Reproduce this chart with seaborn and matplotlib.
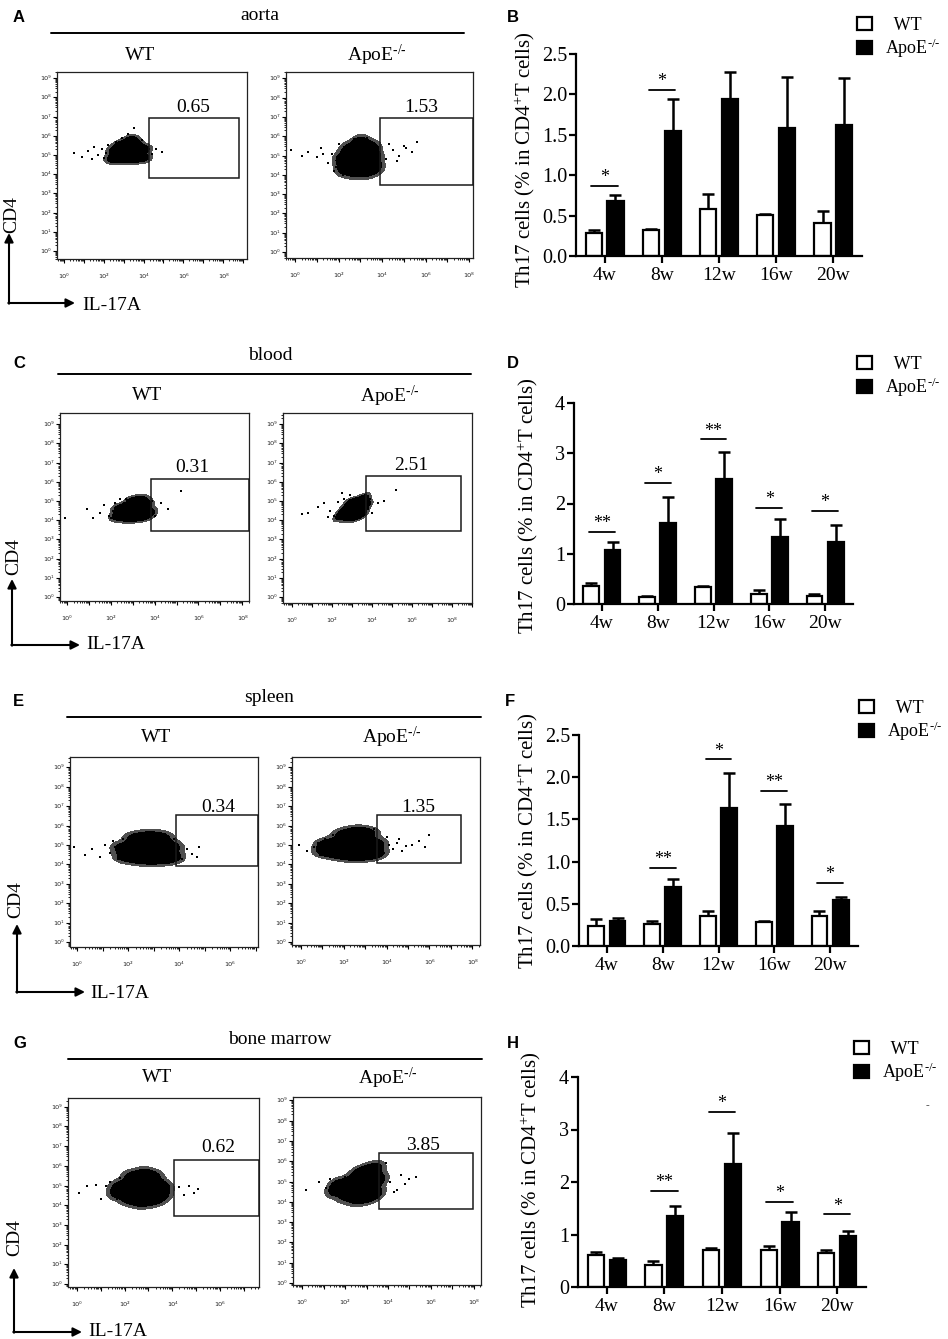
import numpy as np
import pandas as pd
import matplotlib
matplotlib.use('Agg')
import matplotlib.pyplot as plt
import seaborn as sns
from matplotlib.patches import Rectangle, Patch, FancyArrowPatch
from matplotlib.lines import Line2D
from matplotlib.ticker import FixedLocator

# ---------------- data: bar charts ----------------
weeks = ['4w', '8w', '12w', '16w', '20w']
groups = ['WT', 'ApoE']

aorta_wt = [0.29, 0.32, 0.58, 0.51, 0.41]
aorta_wt_err = [0.03, 0.01, 0.19, 0.01, 0.15]
aorta_ko = [0.68, 1.55, 1.94, 1.59, 1.62]
aorta_ko_err = [0.08, 0.39, 0.34, 0.63, 0.58]
aorta_sig_weeks = ['4w', '8w', '12w']
aorta_sig_marks = ['*', '*', '*']
aorta_sig_y = [0.87, 2.06, 2.52]

blood_wt = [0.35, 0.13, 0.33, 0.20, 0.15]
blood_wt_err = [0.07, 0.03, 0.03, 0.07, 0.05]
blood_ko = [1.08, 1.62, 2.48, 1.33, 1.24]
blood_ko_err = [0.15, 0.51, 0.55, 0.36, 0.33]
blood_sig_weeks = ['4w', '8w', '12w', '16w', '20w']
blood_sig_marks = ['**', '*', '**', '*', '*']
blood_sig_y = [1.44, 2.41, 3.28, 1.92, 1.86]

spleen_wt = [0.24, 0.26, 0.35, 0.28, 0.36]
spleen_wt_err = [0.08, 0.04, 0.06, 0.02, 0.05]
spleen_ko = [0.30, 0.70, 1.63, 1.42, 0.55]
spleen_ko_err = [0.03, 0.09, 0.42, 0.26, 0.03]
spleen_sig_weeks = ['8w', '12w', '16w', '20w']
spleen_sig_marks = ['**', '*', '**', '*']
spleen_sig_y = [0.93, 2.21, 1.84, 0.75]

bm_wt = [0.61, 0.41, 0.70, 0.71, 0.65]
bm_wt_err = [0.06, 0.08, 0.04, 0.07, 0.06]
bm_ko = [0.51, 1.36, 2.34, 1.24, 0.97]
bm_ko_err = [0.05, 0.18, 0.60, 0.18, 0.10]
bm_sig_weeks = ['8w', '12w', '16w', '20w']
bm_sig_marks = ['**', '*', '*', '*']
bm_sig_y = [1.83, 3.34, 1.62, 1.39]

# ---------------- data: flow plots (log10 units) ----------------
tissues = ['aorta', 'blood', 'spleen', 'bone marrow']
gate_pct_wt = ['0.65', '0.31', '0.34', '0.62']
gate_pct_ko = ['1.53', '2.51', '1.35', '3.85']

aorta_wt_core_x = [2.4, 2.8, 3.2, 3.6, 4.05, 2.5, 2.9, 3.3, 3.7, 4.05, 2.8, 3.2, 3.6, 3.4]
aorta_wt_core_y = [4.8, 4.78, 4.78, 4.8, 4.85, 5.2, 5.25, 5.25, 5.3, 5.3, 5.5, 5.6, 5.55, 5.8]
aorta_wt_dots_x = [0.5, 0.9, 1.2, 1.5, 1.7, 1.9, 2.0, 2.2, 2.3, 2.6, 2.9, 3.2, 3.5, 3.9, 4.2, 4.4, 4.6, 4.9, 2.7, 3.3, 1.4, 2.1]
aorta_wt_dots_y = [5.1, 4.9, 5.2, 5.4, 5.0, 5.3, 4.85, 5.5, 5.2, 5.7, 5.9, 6.1, 6.4, 5.8, 5.2, 5.05, 5.3, 5.15, 5.5, 5.75, 4.8, 5.1]
aorta_wt_gate_x = [4.27, 8.79]
aorta_wt_gate_y = [3.80, 6.93]

aorta_ko_core_x = [2.2, 2.6, 3.0, 3.4, 3.75, 2.1, 2.5, 2.9, 3.3, 3.7, 2.4, 2.8, 3.2, 3.6, 3.0]
aorta_ko_core_y = [4.3, 4.2, 4.15, 4.2, 4.4, 4.8, 4.8, 4.9, 4.9, 4.9, 5.3, 5.4, 5.5, 5.4, 5.7]
aorta_ko_dots_x = [-0.2, 0.3, 0.6, 1.0, 1.2, 1.5, 1.7, 1.9, 2.0, 1.8, 2.2, 3.9, 4.2, 4.5, 4.8, 5.1, 5.4, 5.6, 4.3, 4.7, 5.0, 3.3, 2.7, 1.3]
aorta_ko_dots_y = [5.3, 5.0, 5.2, 4.9, 5.4, 4.6, 5.1, 4.4, 5.6, 4.2, 4.0, 5.1, 4.8, 5.3, 5.0, 5.4, 5.2, 5.7, 5.6, 4.7, 5.5, 5.9, 5.85, 5.1]
aorta_ko_gate_x = [3.91, 8.18]
aorta_ko_gate_y = [3.47, 6.94]

blood_wt_core_x = [2.3, 2.7, 3.1, 3.5, 3.75, 2.4, 2.8, 3.2, 3.6, 3.0, 3.4]
blood_wt_core_y = [4.2, 4.15, 4.15, 4.2, 4.4, 4.6, 4.65, 4.7, 4.8, 5.0, 5.05]
blood_wt_dots_x = [-0.1, 0.9, 1.2, 1.5, 1.7, 2.0, 2.1, 2.2, 2.4, 2.7, 3.0, 3.8, 4.0, 4.3, 4.6, 5.2, 1.9, 2.6, 3.9]
blood_wt_dots_y = [4.1, 4.6, 4.1, 4.35, 4.8, 4.1, 4.5, 4.9, 5.1, 5.1, 5.15, 4.8, 4.2, 4.9, 4.6, 5.5, 4.2, 4.9, 5.0]
blood_wt_gate_x = [3.84, 8.31]
blood_wt_gate_y = [3.44, 6.15]

blood_ko_core_x = [2.4, 2.8, 3.2, 3.5, 2.6, 3.0, 3.4, 3.7, 3.2, 3.6, 2.9]
blood_ko_core_y = [4.2, 4.15, 4.2, 4.35, 4.5, 4.6, 4.7, 4.8, 4.95, 5.15, 4.9]
blood_ko_dots_x = [0.5, 0.8, 1.3, 1.6, 1.9, 2.1, 2.3, 2.6, 2.9, 3.8, 4.0, 4.3, 4.6, 5.2, 1.8, 2.5, 3.9]
blood_ko_dots_y = [4.3, 4.4, 4.7, 4.9, 4.5, 4.2, 4.95, 5.1, 5.3, 4.6, 4.4, 4.9, 5.0, 5.55, 4.15, 5.4, 5.1]
blood_ko_gate_x = [3.70, 8.45]
blood_ko_gate_y = [3.44, 6.30]

spleen_wt_core_x = [1.9, 2.4, 2.9, 3.4, 3.75, 1.8, 2.3, 2.8, 3.3, 3.7, 2.3, 2.8, 3.3]
spleen_wt_core_y = [4.4, 4.3, 4.25, 4.3, 4.4, 4.85, 4.9, 4.95, 4.95, 4.9, 5.35, 5.45, 5.4]
spleen_wt_dots_x = [-0.1, 0.3, 0.6, 0.9, 1.1, 1.3, 1.5, 1.6, 1.4, 3.8, 3.9, 4.1, 4.3, 4.5, 4.7, 4.8, 1.8, 3.6, 2.1]
spleen_wt_dots_y = [4.9, 4.5, 4.8, 4.4, 5.0, 4.6, 4.9, 4.3, 5.2, 5.3, 4.6, 4.3, 4.8, 4.55, 4.4, 4.9, 5.3, 5.4, 5.25]
spleen_wt_gate_x = [3.88, 7.10]
spleen_wt_gate_y = [3.92, 6.55]

spleen_ko_core_x = [1.1, 1.6, 2.1, 2.6, 3.1, 3.5, 1.2, 1.8, 2.4, 3.0, 3.5, 2.0, 2.6, 3.1]
spleen_ko_core_y = [4.7, 4.6, 4.5, 4.45, 4.5, 4.6, 5.05, 5.1, 5.1, 5.1, 5.05, 5.55, 5.7, 5.6]
spleen_ko_dots_x = [-0.1, 0.3, 0.6, 0.9, 1.1, 0.8, 3.7, 3.9, 4.1, 4.3, 4.5, 4.7, 4.9, 5.2, 5.5, 5.8, 6.0, 4.0, 4.6, 1.5, 3.4]
spleen_ko_dots_y = [5.0, 4.7, 4.9, 4.5, 5.3, 5.1, 5.2, 4.6, 5.0, 4.8, 5.1, 4.7, 4.95, 5.0, 5.2, 4.9, 5.5, 5.4, 5.3, 5.5, 5.8]
spleen_ko_gate_x = [3.55, 7.48]
spleen_ko_gate_y = [4.07, 6.55]

bm_wt_core_x = [1.7, 2.2, 2.7, 3.2, 3.55, 1.8, 2.3, 2.8, 3.3, 3.6, 2.3, 2.8, 3.2, 2.7]
bm_wt_core_y = [4.6, 4.3, 4.15, 4.25, 4.5, 4.95, 5.0, 5.0, 5.0, 4.9, 5.45, 5.6, 5.45, 4.6]
bm_wt_dots_x = [0.1, 0.4, 0.8, 1.0, 1.2, 1.4, 1.6, 1.8, 3.6, 3.8, 4.3, 4.5, 4.7, 4.9, 5.1, 2.8, 3.2, 1.7]
bm_wt_dots_y = [4.6, 5.0, 5.05, 4.3, 5.0, 5.2, 4.6, 5.4, 5.3, 4.7, 4.9, 4.5, 5.0, 4.6, 4.8, 5.7, 5.5, 4.3]
bm_wt_gate_x = [4.08, 7.65]
bm_wt_gate_y = [3.45, 6.29]

bm_ko_core_x = [1.6, 2.1, 2.6, 3.1, 3.4, 1.7, 2.2, 2.7, 3.2, 3.55, 2.6, 3.0, 3.4]
bm_ko_core_y = [4.55, 4.3, 4.15, 4.25, 4.45, 4.85, 4.85, 4.9, 5.0, 5.1, 5.35, 5.5, 5.65]
bm_ko_dots_x = [0.2, 0.8, 1.1, 1.3, 1.5, 1.6, 3.7, 3.9, 4.1, 4.4, 4.6, 4.8, 5.0, 5.3, 4.3, 3.6, 2.0, 3.4]
bm_ko_dots_y = [4.6, 5.0, 4.7, 5.1, 4.4, 4.9, 5.4, 5.9, 5.0, 4.6, 5.3, 4.9, 5.1, 5.2, 4.5, 5.8, 5.2, 4.2]
bm_ko_gate_x = [3.58, 7.95]
bm_ko_gate_y = [3.65, 6.40]

# ---------------- style ----------------
sns.set_style('ticks')
plt.rcParams['font.family'] = ['Liberation Serif', 'DejaVu Serif']
plt.rcParams['mathtext.fontset'] = 'custom'
plt.rcParams['mathtext.rm'] = 'Liberation Serif'
plt.rcParams['mathtext.it'] = 'Liberation Serif:italic'
plt.rcParams['mathtext.bf'] = 'Liberation Serif:bold'
for k in ['text.color', 'axes.labelcolor', 'xtick.color', 'ytick.color', 'axes.edgecolor']:
    plt.rcParams[k] = 'black'

W, H = 948, 1339
fig = plt.figure(figsize=(W / 100, H / 100), dpi=100)
SUP = str.maketrans('0123456789', '⁰¹²³⁴⁵⁶⁷⁸⁹')
KO = 'ApoE$^{\u2010/\u2010}$'


def px_axes(x0, y0, x1, y1):
    return fig.add_axes([x0 / W, 1 - y1 / H, (x1 - x0) / W, (y1 - y0) / H])


def ftext(x, y, s, **kw):
    fig.text(x / W, 1 - y / H, s, **kw)


def fline(x0, x1, y):
    fig.add_artist(Line2D([x0 / W, x1 / W], [1 - y / H, 1 - y / H],
                          transform=fig.transFigure, color='black', lw=1.4))


def farrow(x0, y0, x1, y1):
    fig.add_artist(FancyArrowPatch((x0 / W, 1 - y0 / H), (x1 / W, 1 - y1 / H),
                                   transform=fig.transFigure, arrowstyle='-|>',
                                   mutation_scale=13, lw=1.5, color='black',
                                   shrinkA=0, shrinkB=0))


def flow_panel(box, xmap, ymap, cx, cy, sx, sy, gx, gy):
    x0, y0, x1, y1 = box
    ax = px_axes(x0, y0, x1, y1)
    core = pd.DataFrame({'il17a': cx, 'cd4': cy})
    dots = pd.DataFrame({'il17a': sx, 'cd4': sy})
    try:
        sns.kdeplot(data=core, x='il17a', y='cd4', fill=True, color='black',
                    colors=['#505050', '#000000'],
                    levels=[0.05, 0.16, 1.0], bw_adjust=0.72, ax=ax)
    except Exception:
        sns.kdeplot(data=core, x='il17a', y='cd4', fill=True, color='black',
                    levels=[0.05, 0.16, 1.0], bw_adjust=0.72, ax=ax)
    sns.scatterplot(data=dots, x='il17a', y='cd4', s=2, color='black', marker='s',
                    linewidth=0, ax=ax)
    xp0, xppd = xmap
    yp0, yppd = ymap
    xlo, xhi = (x0 - xp0) / xppd, (x1 - xp0) / xppd
    ylo, yhi = (yp0 - y1) / yppd, (yp0 - y0) / yppd
    ax.set_xlim(xlo, xhi)
    ax.set_ylim(ylo, yhi)
    ax.add_patch(Rectangle((gx[0], gy[0]), gx[1] - gx[0], gy[1] - gy[0], fill=False,
                           ec='#1a1a1a', lw=1.1, clip_on=False, zorder=5))
    xmaj = [k for k in range(0, 10) if xlo <= k <= xhi]
    ymaj = [k for k in range(0, 10) if ylo <= k <= yhi]
    ax.xaxis.set_major_locator(FixedLocator(xmaj))
    ax.yaxis.set_major_locator(FixedLocator(ymaj))
    ax.set_xticklabels([('10' + str(k).translate(SUP)) if k % 2 == 0 else '' for k in xmaj],
                       fontfamily='DejaVu Sans', fontsize=4.6, color='#222222')
    ax.set_yticklabels(['10' + str(k).translate(SUP) for k in ymaj],
                       fontfamily='DejaVu Sans', fontsize=4.6, color='#222222')
    mx = [k + np.log10(m) for k in range(-1, 10) for m in range(2, 10) if xlo < k + np.log10(m) < xhi]
    my = [k + np.log10(m) for k in range(-1, 10) for m in range(2, 10) if ylo < k + np.log10(m) < yhi]
    ax.xaxis.set_minor_locator(FixedLocator(mx))
    ax.yaxis.set_minor_locator(FixedLocator(my))
    ax.tick_params(axis='both', which='major', length=3, width=0.8, direction='out')
    ax.tick_params(axis='both', which='minor', length=1.6, width=0.6, direction='out')
    ax.tick_params(axis='x', which='major', pad=8)
    ax.tick_params(axis='y', which='major', pad=1.5)
    for s in ax.spines.values():
        s.set_linewidth(0.9)
        s.set_color('#222222')
    ax.set_xlabel('')
    ax.set_ylabel('')
    return ax


def bar_panel(box, ylim, yticks, ytlabels, wt, wt_err, ko, ko_err,
              sig_w, sig_m, sig_y, label_xy, legend_xy):
    ax = px_axes(*box)
    df = pd.DataFrame({'week': weeks * 2,
                       'group': ['WT'] * len(weeks) + ['ApoE'] * len(weeks),
                       'value': list(wt) + list(ko)})
    sns.barplot(data=df, x='week', y='value', hue='group', order=weeks, hue_order=groups,
                palette={'WT': 'white', 'ApoE': 'black'}, saturation=1,
                edgecolor='black', linewidth=1.6, width=0.76, gap=0.26,
                errorbar=None, legend=False, ax=ax)
    for cont, err in zip(ax.containers, [wt_err, ko_err]):
        xs = [p.get_x() + p.get_width() / 2 for p in cont.patches]
        hs = [p.get_height() for p in cont.patches]
        ax.errorbar(xs, hs, yerr=[np.zeros(len(err)), err], fmt='none', ecolor='black',
                    elinewidth=1.8, capsize=4, capthick=1.8, zorder=0.5)
    for w, m, y in zip(sig_w, sig_m, sig_y):
        i = weeks.index(w)
        ax.plot([i - 0.23, i + 0.23], [y, y], color='black', lw=1.3)
        ax.annotate(m, (i, y), xytext=(0, 2.5), textcoords='offset points',
                    ha='center', va='baseline', fontsize=13)
    ax.set_xlim(-0.5, 4.5)
    ax.set_ylim(*ylim)
    ax.set_yticks(yticks)
    ax.set_yticklabels(ytlabels, fontsize=14.5)
    ax.set_xticks(range(len(weeks)))
    ax.set_xticklabels(weeks, fontsize=14)
    ax.set_xlabel('')
    ax.set_ylabel(r'Th17 cells (% in CD4$^{+}$T cells)', fontsize=15)
    ax.yaxis.set_label_coords(*label_xy)
    sns.despine(ax=ax)
    for s in ['left', 'bottom']:
        ax.spines[s].set_linewidth(1.6)
    ax.tick_params(axis='both', length=5, width=1.6, direction='out')
    ax.tick_params(axis='y', pad=1.5)
    ax.tick_params(axis='x', pad=3)
    handles = [Patch(facecolor='white', edgecolor='black', lw=1.6),
               Patch(facecolor='black', edgecolor='black', lw=1.6)]
    ax.legend(handles, ['  WT', KO], loc='upper left',
              bbox_to_anchor=(legend_xy[0] / W, 1 - legend_xy[1] / H),
              bbox_transform=fig.transFigure, frameon=False, fontsize=13,
              handlelength=0.85, handleheight=0.7, handletextpad=0.7,
              labelspacing=0.12, borderpad=0, borderaxespad=0)
    return ax


# ---------------- layout ----------------
rows = [
    dict(letter='A', letter2='B', ly=17, title_xy=(260, 16), line=(51, 464, 33),
         wt_xy=(140, 55), ko_xy=(377, 55),
         wt_box=(57, 72, 247, 259), wt_xmap=(64, 19.9), wt_ymap=(251, 19.2),
         ko_box=(286, 72, 473, 258), ko_xmap=(295, 21.75), ko_ymap=(252, 19.3),
         pct_wt_xy=(193, 108), pct_ko_xy=(421, 108),
         arrow=(9, 303, 233, 75), cd4_xy=(12, 215), il_xy=(82, 305)),
    dict(letter='C', letter2='D', ly=363, title_xy=(270, 356), line=(58, 471, 374),
         wt_xy=(147, 396), ko_xy=(390, 396),
         wt_box=(60, 413, 249, 601), wt_xmap=(67, 21.9), wt_ymap=(597, 19.2),
         ko_box=(283, 413, 472, 603), ko_xmap=(292, 20.0), ko_ymap=(597, 19.2),
         pct_wt_xy=(192, 467), pct_ko_xy=(411, 465),
         arrow=(12, 645, 579, 80), cd4_xy=(14, 557), il_xy=(86, 645)),
    dict(letter='E', letter2='F', ly=701, title_xy=(269, 698), line=(67, 481, 717),
         wt_xy=(156, 737), ko_xy=(392, 737),
         wt_box=(70, 757, 258, 947), wt_xmap=(77, 25.5), wt_ymap=(942, 19.4),
         ko_box=(292, 757, 480, 945), ko_xmap=(301, 21.4), ko_ymap=(942, 19.4),
         pct_wt_xy=(218, 807), pct_ko_xy=(418, 807),
         arrow=(17, 992, 924, 85), cd4_xy=(16, 900), il_xy=(90, 993)),
    dict(letter='G', letter2='H', ly=1043, title_xy=(280, 1039), line=(68, 482, 1059),
         wt_xy=(157, 1078), ko_xy=(388, 1078),
         wt_box=(68, 1098, 259, 1287), wt_xmap=(77, 23.8), wt_ymap=(1284, 19.7),
         ko_box=(293, 1097, 481, 1285), ko_xmap=(302, 21.5), ko_ymap=(1283, 20.3),
         pct_wt_xy=(218, 1148), pct_ko_xy=(423, 1145),
         arrow=(14, 1332, 1268, 82), cd4_xy=(15, 1238), il_xy=(88, 1332)),
]

flow_data = [
    ((aorta_wt_core_x, aorta_wt_core_y, aorta_wt_dots_x, aorta_wt_dots_y, aorta_wt_gate_x, aorta_wt_gate_y),
     (aorta_ko_core_x, aorta_ko_core_y, aorta_ko_dots_x, aorta_ko_dots_y, aorta_ko_gate_x, aorta_ko_gate_y)),
    ((blood_wt_core_x, blood_wt_core_y, blood_wt_dots_x, blood_wt_dots_y, blood_wt_gate_x, blood_wt_gate_y),
     (blood_ko_core_x, blood_ko_core_y, blood_ko_dots_x, blood_ko_dots_y, blood_ko_gate_x, blood_ko_gate_y)),
    ((spleen_wt_core_x, spleen_wt_core_y, spleen_wt_dots_x, spleen_wt_dots_y, spleen_wt_gate_x, spleen_wt_gate_y),
     (spleen_ko_core_x, spleen_ko_core_y, spleen_ko_dots_x, spleen_ko_dots_y, spleen_ko_gate_x, spleen_ko_gate_y)),
    ((bm_wt_core_x, bm_wt_core_y, bm_wt_dots_x, bm_wt_dots_y, bm_wt_gate_x, bm_wt_gate_y),
     (bm_ko_core_x, bm_ko_core_y, bm_ko_dots_x, bm_ko_dots_y, bm_ko_gate_x, bm_ko_gate_y)),
]

bar_specs = [
    dict(box=(576, 54, 862, 256), ylim=(0, 2.5), yticks=[0, 0.5, 1.0, 1.5, 2.0, 2.5],
         ytl=['0.0', '0.5', '1.0', '1.5', '2.0', '2.5'],
         data=(aorta_wt, aorta_wt_err, aorta_ko, aorta_ko_err, aorta_sig_weeks, aorta_sig_marks, aorta_sig_y),
         label_xy=(-0.136, 0.475), legend_xy=(857, 17), letter_xy=(507, 17)),
    dict(box=(574, 403, 853, 604), ylim=(0, 4), yticks=[0, 1, 2, 3, 4],
         ytl=['0', '1', '2', '3', '4'],
         data=(blood_wt, blood_wt_err, blood_ko, blood_ko_err, blood_sig_weeks, blood_sig_marks, blood_sig_y),
         label_xy=(-0.122, 0.49), legend_xy=(857, 356), letter_xy=(507, 363)),
    dict(box=(579, 735, 858, 946), ylim=(0, 2.5), yticks=[0, 0.5, 1.0, 1.5, 2.0, 2.5],
         ytl=['0.0', '0.5', '1.0', '1.5', '2.0', '2.5'],
         data=(spleen_wt, spleen_wt_err, spleen_ko, spleen_ko_err, spleen_sig_weeks, spleen_sig_marks, spleen_sig_y),
         label_xy=(-0.14, 0.50), legend_xy=(859, 700), letter_xy=(505, 701)),
    dict(box=(578, 1077, 866, 1287), ylim=(0, 4), yticks=[0, 1, 2, 3, 4],
         ytl=['0', '1', '2', '3', '4'],
         data=(bm_wt, bm_wt_err, bm_ko, bm_ko_err, bm_sig_weeks, bm_sig_marks, bm_sig_y),
         label_xy=(-0.122, 0.51), legend_xy=(854, 1041), letter_xy=(507, 1043)),
]

for r, tissue, (fwt, fko), pw, pk, bs in zip(rows, tissues, flow_data, gate_pct_wt, gate_pct_ko, bar_specs):
    ftext(13, r['ly'], r['letter'], fontfamily='Liberation Sans', fontweight='bold',
          fontsize=12, ha='left', va='center')
    ftext(*r['title_xy'], tissue, fontsize=14, ha='center', va='center')
    fline(*r['line'])
    ftext(*r['wt_xy'], 'WT', fontsize=14, ha='center', va='center')
    ftext(*r['ko_xy'], KO, fontsize=14, ha='center', va='center')
    flow_panel(r['wt_box'], r['wt_xmap'], r['wt_ymap'], *fwt)
    flow_panel(r['ko_box'], r['ko_xmap'], r['ko_ymap'], *fko)
    ftext(*r['pct_wt_xy'], pw, fontsize=14, ha='center', va='center')
    ftext(*r['pct_ko_xy'], pk, fontsize=14, ha='center', va='center')
    ax_x, yb, yt, xr = r['arrow']
    farrow(ax_x, yb + 0.7, ax_x, yt)
    farrow(ax_x - 0.7, yb, xr, yb)
    ftext(*r['cd4_xy'], 'CD4', fontsize=14, rotation=90, ha='center', va='center')
    ftext(*r['il_xy'], 'IL-17A', fontsize=14, ha='left', va='center')

    ftext(*bs['letter_xy'], r['letter2'], fontfamily='Liberation Sans', fontweight='bold',
          fontsize=12, ha='left', va='center')
    bar_panel(bs['box'], bs['ylim'], bs['yticks'], bs['ytl'], *bs['data'],
              label_xy=bs['label_xy'], legend_xy=bs['legend_xy'])

ftext(927, 1106, '-', fontsize=8, ha='center', va='center', color='#444444')

fig.savefig('out.png', dpi=100)
